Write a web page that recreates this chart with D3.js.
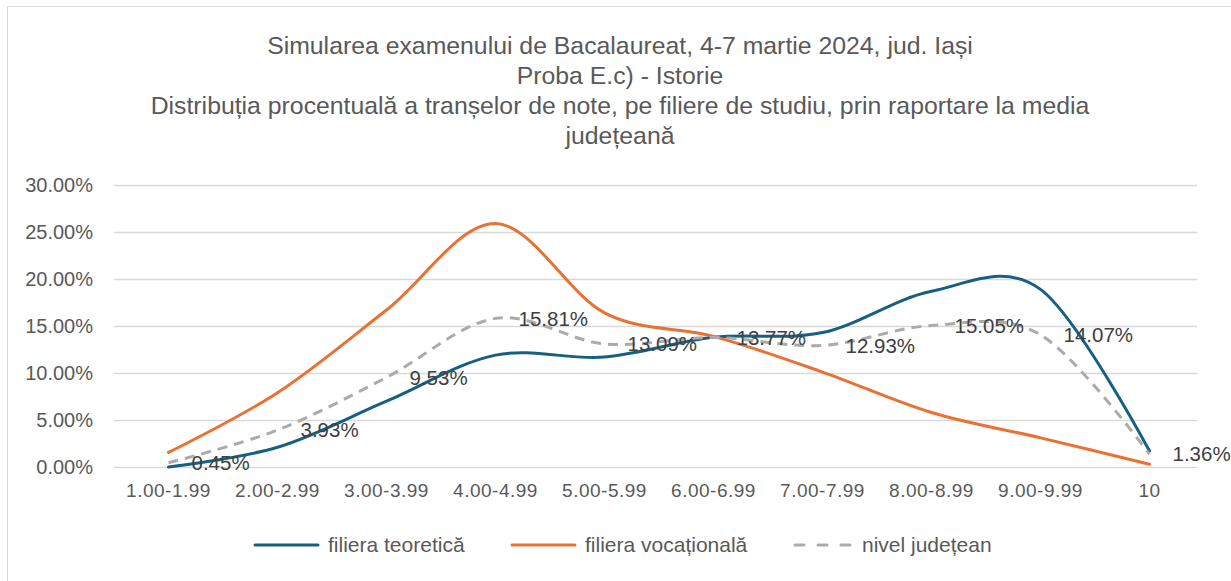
<!DOCTYPE html>
<html>
<head>
<meta charset="utf-8">
<script src="https://cdn.jsdelivr.net/npm/d3@7"></script>
<style>
  body { margin: 0; background: #fff; }
  svg { display: block; font-family: "Liberation Sans", Arial, sans-serif; }
</style>
</head>
<body>
<svg id="chart" width="1231" height="581"></svg>
<script>
const categories = ["1.00-1.99", "2.00-2.99", "3.00-3.99", "4.00-4.99", "5.00-5.99",
                    "6.00-6.99", "7.00-7.99", "8.00-8.99", "9.00-9.99", "10"];
const teoretica  = [0.0, 2.1, 7.0, 11.9, 11.7, 13.8, 14.3, 18.7, 18.9, 1.7];
const vocationala = [1.55, 7.9, 16.7, 25.9, 16.4, 13.9, 10.1, 5.8, 3.1, 0.3];
const judetean   = [0.45, 3.93, 9.53, 15.81, 13.09, 13.77, 12.93, 15.05, 14.07, 1.36];
const yTicks = [0, 5, 10, 15, 20, 25, 30];
const titleLines = [
  "Simularea examenului de Bacalaureat, 4-7 martie 2024, jud. Iași",
  "Proba E.c) - Istorie",
  "Distribuția procentuală a tranșelor de note, pe filiere de studiu, prin raportare la media",
  "județeană"
];

const series = [
  {name: "filiera teoretică", values: teoretica, color: "#156082", dash: null},
  {name: "filiera vocațională", values: vocationala, color: "#E97132", dash: null},
  {name: "nivel județean", values: judetean, color: "#ababab", dash: "10,7", labels: true}
];

const [width, height] = [1231, 581];
const margin = {top: 185, right: 27, bottom: 114, left: 114};

const svg = d3.select("#chart");

// chart area border
svg.append("rect")
    .attr("x", 7.5).attr("y", 6.5)
    .attr("width", 1400).attr("height", 800)
    .attr("fill", "none")
    .attr("stroke", "#d9d9d9");

const x = d3.scaleBand()
    .domain(categories)
    .range([margin.left, width - margin.right]);

const y = d3.scaleLinear()
    .domain([0, 30])
    .range([height - margin.bottom, margin.top]);

// title
svg.append("g")
    .selectAll("text")
    .data(titleLines)
    .join("text")
    .attr("x", 620)
    .attr("y", (d, i) => 45 + i * 30)
    .attr("dy", "0.35em")
    .attr("text-anchor", "middle")
    .attr("font-size", 24.8)
    .attr("fill", "#595959")
    .text(d => d);

// y axis + gridlines
const yAxis = svg.append("g")
    .attr("transform", `translate(${margin.left},0)`)
    .call(d3.axisLeft(y)
        .tickValues(yTicks)
        .tickSize(-(width - margin.left - margin.right - 7))
        .tickPadding(21)
        .tickFormat(d => d.toFixed(2) + "%"));
yAxis.select(".domain").remove();
yAxis.selectAll(".tick line").attr("stroke", "#d9d9d9").attr("stroke-width", 1.5);
yAxis.selectAll(".tick text")
    .attr("font-size", 20)
    .attr("fill", "#595959")
    .attr("font-family", "Liberation Sans, Arial, sans-serif");

// x axis
const xAxis = svg.append("g")
    .attr("transform", `translate(0,${height - margin.bottom})`)
    .call(d3.axisBottom(x).tickSize(0).tickPadding(17));
xAxis.select(".domain").remove();
xAxis.selectAll(".tick text")
    .attr("font-size", 19)
    .attr("letter-spacing", 0.5)
    .attr("fill", "#595959")
    .attr("font-family", "Liberation Sans, Arial, sans-serif");

const line = d3.line()
    .x((d, i) => x(categories[i]) + x.bandwidth() / 2)
    .y(d => y(d))
    .curve(d3.curveCatmullRom.alpha(0));

svg.append("g")
    .selectAll("path")
    .data(series)
    .join("path")
    .attr("d", d => line(d.values))
    .attr("fill", "none")
    .attr("stroke", d => d.color)
    .attr("stroke-width", 3)
    .attr("stroke-dasharray", d => d.dash)
    .attr("stroke-linecap", d => d.dash ? "butt" : "round");

// data labels for the county level series
const lbl = series.find(s => s.labels);
svg.append("g")
    .selectAll("text")
    .data(lbl.values)
    .join("text")
    .attr("x", (d, i) => x(categories[i]) + x.bandwidth() / 2 + 23)
    .attr("y", d => y(d))
    .attr("dy", "0.35em")
    .attr("font-size", 20.5)
    .attr("fill", "#404040")
    .text(d => d.toFixed(2) + "%");

// legend
const legendX = [255, 512, 795];
const legend = svg.append("g")
    .selectAll("g")
    .data(series)
    .join("g")
    .attr("transform", (d, i) => `translate(${legendX[i]},545)`);

legend.append("line")
    .attr("x1", 0).attr("x2", d => d.dash ? 56 : 63)
    .attr("stroke", d => d.color)
    .attr("stroke-width", 3)
    .attr("stroke-dasharray", d => d.dash ? "9,14" : null)
    .attr("stroke-linecap", "round");

legend.append("text")
    .attr("x", d => d.dash ? 67 : 73)
    .attr("dy", "0.35em")
    .attr("font-size", 21)
    .attr("fill", "#595959")
    .text(d => d.name);
</script>
</body>
</html>
